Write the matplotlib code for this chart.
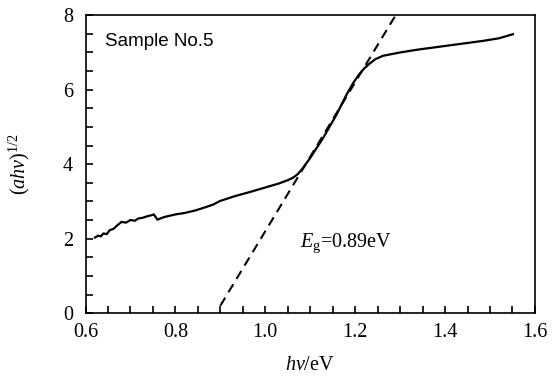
import matplotlib
matplotlib.use("Agg")
import matplotlib.pyplot as plt
from matplotlib.ticker import MultipleLocator, FormatStrFormatter
import numpy as np

hv = [0.621, 0.628, 0.634, 0.640, 0.647, 0.654, 0.662, 0.670, 0.680, 0.690,
      0.700, 0.710, 0.717, 0.727, 0.737, 0.747, 0.752, 0.760, 0.775, 0.800,
      0.821, 0.845, 0.866, 0.885, 0.899, 0.932, 0.965, 0.999, 1.030, 1.050,
      1.062, 1.072, 1.082, 1.099, 1.128, 1.158, 1.180, 1.195, 1.208, 1.220,
      1.232, 1.245, 1.262, 1.300, 1.336, 1.410, 1.484, 1.520, 1.551]
ahv = [2.03, 2.08, 2.06, 2.14, 2.12, 2.23, 2.26, 2.35, 2.45, 2.43,
       2.50, 2.48, 2.54, 2.56, 2.60, 2.63, 2.65, 2.51, 2.58, 2.65,
       2.69, 2.76, 2.84, 2.92, 3.01, 3.14, 3.25, 3.37, 3.48, 3.57,
       3.64, 3.73, 3.87, 4.15, 4.69, 5.32, 5.85, 6.17, 6.40, 6.57,
       6.70, 6.82, 6.91, 7.00, 7.07, 7.19, 7.31, 7.38, 7.49]

# linear fit for the band gap
eg = 0.89
fit_x = [0.90, 1.30]
fit_slope = 20.0

plt.rcParams["font.family"] = "Liberation Serif"
plt.rcParams["mathtext.fontset"] = "custom"
plt.rcParams["mathtext.rm"] = "Liberation Serif"
plt.rcParams["mathtext.it"] = "Liberation Serif:italic"

fig = plt.figure(figsize=(5.59, 3.80), dpi=100)
ax = fig.add_axes([0.153, 0.176, 0.804, 0.784])

ax.plot(hv, ahv, color="black", lw=1.6)
fx = np.array(fit_x)
ax.plot(fx, fit_slope * (fx - eg), color="black", lw=1.5, ls=(0, (4.5, 3)))

ax.set_xlim(0.6, 1.6)
ax.set_ylim(0, 8)
ax.xaxis.set_major_locator(MultipleLocator(0.2))
ax.xaxis.set_minor_locator(MultipleLocator(0.05))
ax.yaxis.set_major_locator(MultipleLocator(2))
ax.yaxis.set_minor_locator(MultipleLocator(0.5))
ax.xaxis.set_major_formatter(FormatStrFormatter("%.1f"))
ax.tick_params(which="both", direction="in", length=5, width=1.2,
               top=False, right=False, labelsize=14.5)
ax.tick_params(axis="y", pad=9)
ax.tick_params(axis="x", pad=7)
for s in ax.spines.values():
    s.set_linewidth(1.2)

ax.set_xlabel(r"$\mathit{hv}$/eV", fontsize=14.5, labelpad=10)
ax.set_ylabel(r"$(\mathit{ahv})^{1/2}$", fontsize=14.5, labelpad=22)

ax.text(0.643, 7.18, "Sample No.5", family="Liberation Sans", fontsize=13.5)
ax.text(1.078, 1.78, r"$\mathit{E}_\mathrm{g}$=0.89eV", fontsize=14.5)

fig.savefig("out.png", dpi=100)
